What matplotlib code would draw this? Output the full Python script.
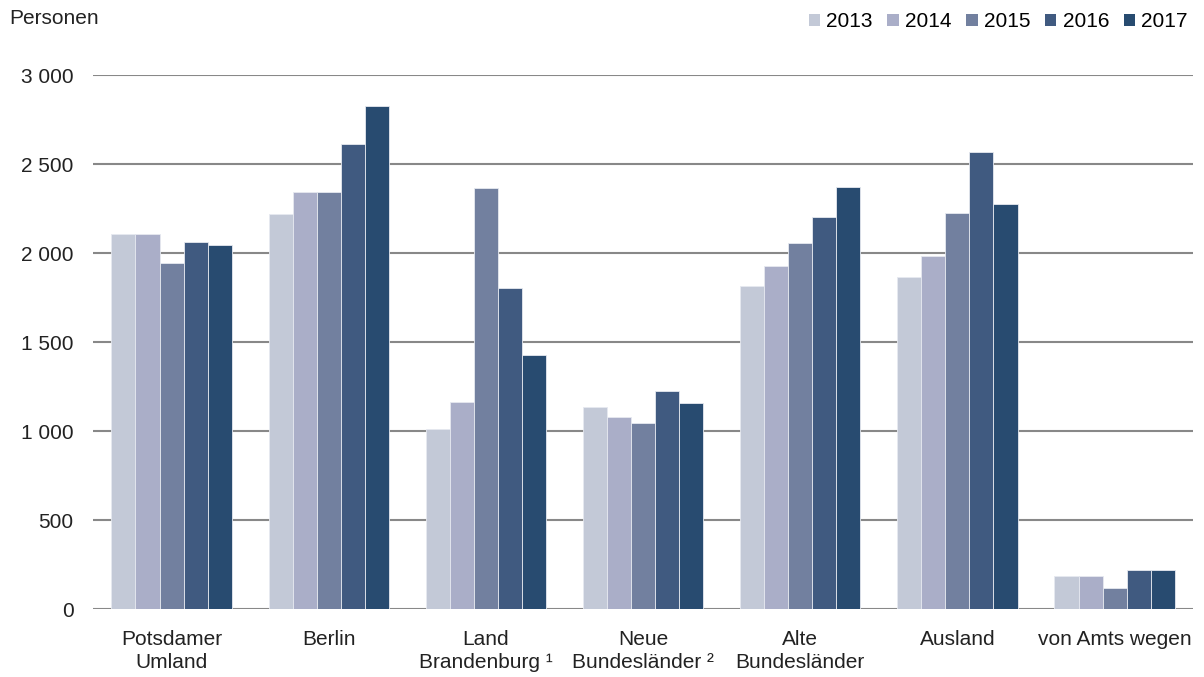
import matplotlib
matplotlib.use("Agg")
import matplotlib.pyplot as plt
from matplotlib.patches import Patch
import numpy as np

plt.rcParams['font.family'] = ['Liberation Sans', 'DejaVu Sans']

categories = ["Potsdamer\nUmland", "Berlin", "Land\nBrandenburg \u00b9",
              "Neue\nBundesländer \u00b2", "Alte\nBundesländer", "Ausland",
              "von Amts wegen"]
years = ["2013", "2014", "2015", "2016", "2017"]
v2013 = [2107, 2219, 1010, 1135, 1816, 1868, 184]
v2014 = [2107, 2343, 1165, 1080, 1925, 1981, 184]
v2015 = [1942, 2343, 2365, 1045, 2059, 2228, 116]
v2016 = [2064, 2612, 1805, 1225, 2204, 2569, 217]
v2017 = [2043, 2826, 1425, 1160, 2370, 2275, 217]
series = [v2013, v2014, v2015, v2016, v2017]
colors = ["#c3c9d7", "#aaaec8", "#72809f", "#405a80", "#284b70"]
yticks = [0, 500, 1000, 1500, 2000, 2500, 3000]
ytick_labels = ["0", "500", "1 000", "1 500", "2 000", "2 500", "3 000"]

fig = plt.figure(figsize=(12.04, 6.77), dpi=100)
ax = fig.add_axes([0.0772, 0.1004, 0.9138, 0.7886])

x = np.arange(len(categories))
bw = 0.153
for i, (vals, col) in enumerate(zip(series, colors)):
    ax.bar(x + (i - 2) * bw, vals, width=bw, color=col,
           edgecolor="#e6e9f0", linewidth=0.6, zorder=3)

ax.set_xlim(-0.5, len(categories) - 0.5)
ax.set_ylim(0, 3000)
ax.set_yticks(yticks)
ax.set_yticklabels(ytick_labels, fontsize=15, color="#222222")
ax.set_xticks(x)
ax.set_xticklabels(categories, fontsize=15, color="#222222", linespacing=1.25)
ax.tick_params(axis="both", length=0)
ax.tick_params(axis="y", pad=14)
ax.tick_params(axis="x", pad=15)
for s in ax.spines.values():
    s.set_visible(False)
ax.yaxis.grid(True, color="#888888", linewidth=1.5, zorder=0)
ax.set_axisbelow(True)

fig.text(0.008, 0.972, "Personen", fontsize=15, color="#222222", va="center", ha="left")

handles = [Patch(facecolor=c, edgecolor="none") for c in colors]
fig.legend(handles, years, loc="upper right", bbox_to_anchor=(0.997, 1.0),
           ncol=5, frameon=False, fontsize=15, handlelength=0.55,
           handleheight=0.55, handletextpad=0.3, columnspacing=0.7,
           borderaxespad=0.2)

fig.savefig("out.png", dpi=100)
